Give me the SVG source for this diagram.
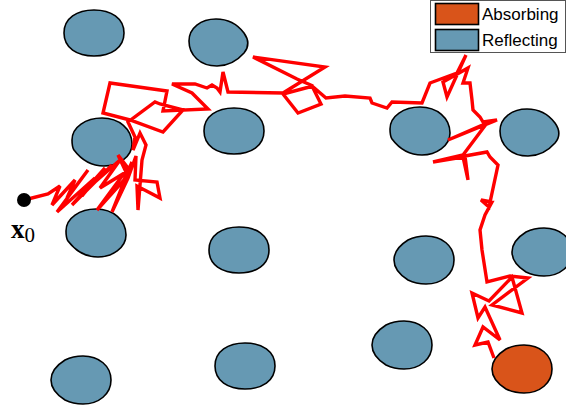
<svg xmlns="http://www.w3.org/2000/svg" xmlns:xlink="http://www.w3.org/1999/xlink" width="566" height="408" viewBox="0 0 566 408">
  <style>
    .obst { stroke: #000; stroke-width: 1.6; }
    .refl { fill: #6699b3; }
    .absb { fill: #d9541a; }
    .walk { fill: none; stroke: #ff0000; stroke-width: 3.4; stroke-linejoin: miter; stroke-miterlimit: 3; }
    .lbl { font-family: "Liberation Sans", Arial, sans-serif; font-size: 17px; fill: #000; }
  </style>
  <defs>
    <!-- obstacle outlines in local coordinates -->
    <path id="shapeA" d="M-30,0 C-30,-15 -17,-23 0,-23 C17,-23 30,-15 30,0 C30,15 17,23 0,23 C-17,23 -30,15 -30,0 Z"/>
    <path id="shapeB" d="M-30,-1 C-30,-14 -18,-23 -3,-23 C10,-23 19,-17 25,-9 C30,-2 30,5 25,11 C18,19 9,24 -2,24 C-19,24 -30,13 -30,-1 Z"/>
    <path id="shapeC" d="M-30,0 C-30,-8 -24,-15 -16,-20 C-10,-23 -4,-24 2,-24 C18,-24 30,-14 30,0 C30,14 18,24 2,24 C-4,24 -10,23 -16,20 C-24,15 -30,8 -30,0 Z"/>
    <path id="shapeD" d="M-30,-2 C-30,-15 -16,-24 0,-24 C17,-24 30,-13 30,2 C30,15 16,24 2,24 C-12,24 -22,16 -28,8 C-30,5 -30,2 -30,-2 Z"/>
  </defs>
  <rect width="566" height="408" fill="#fff"/>

  <!-- reflecting obstacles -->
  <g id="obstacle-1" transform="translate(94,33)"><use xlink:href="#shapeA" class="obst refl"/></g>
  <g id="obstacle-2" transform="translate(219,42)"><use xlink:href="#shapeB" class="obst refl"/></g>
  <g id="obstacle-3" transform="translate(102,142)"><use xlink:href="#shapeD" class="obst refl"/></g>
  <g id="obstacle-4" transform="translate(234,131)"><use xlink:href="#shapeA" class="obst refl"/></g>
  <g id="obstacle-5" transform="translate(420,131)"><use xlink:href="#shapeD" class="obst refl"/></g>
  <g id="obstacle-6" transform="translate(530,132)"><use xlink:href="#shapeB" class="obst refl"/></g>
  <g id="obstacle-7" transform="translate(96,233)"><use xlink:href="#shapeD" class="obst refl"/></g>
  <g id="obstacle-8" transform="translate(239,250)"><use xlink:href="#shapeA" class="obst refl"/></g>
  <g id="obstacle-9" transform="translate(424,260)"><use xlink:href="#shapeC" class="obst refl"/></g>
  <g id="obstacle-10" transform="translate(542,252)"><use xlink:href="#shapeC" class="obst refl"/></g>
  <g id="obstacle-11" transform="translate(402,345)"><use xlink:href="#shapeC" class="obst refl"/></g>
  <g id="obstacle-12" transform="translate(245,366)"><use xlink:href="#shapeA" class="obst refl"/></g>
  <g id="obstacle-13" transform="translate(81,380)"><use xlink:href="#shapeC" class="obst refl"/></g>

  <!-- absorbing target -->
  <g id="target" transform="translate(522,369)"><use xlink:href="#shapeC" class="obst absb"/></g>

  <!-- sample path of the walker -->
  <g id="connectors">
    <polyline class="walk" points="24,200 48,194 60,186 52,205 75,180 67,198 88,170 57,212 95,178 82,196 105,168 72,205 112,165 95,182 120,160 100,188 126,172 118,155 128,168 97,210 124,180 132,162 112,212 128,178 136,156 135,180 157,182 160,198 137,186 138,210 142,160 146,145 140,133 133,150 135,137 128,122 155,102 160,104 183,110 163,132 130,120 103,113 110,83 167,91 163,111 208,109 192,93 172,84 195,84 207,88 212,85 217,88 220,92 223,72 228,92 283,93 325,67 253,57 297,79 313,86 283,94 298,113 321,104 312,86 326,98 345,96 370,98 372,103 387,108 392,102 422,103 430,83 457,73 466,55 447,97 443,82 468,68 463,83 470,83 472,100 473,110 480,117 483,122 497,120 448,140 487,123 463,155 433,162 463,157 468,180 465,156 487,152 490,157 498,165 489,207 481,200 492,202 485,215 480,230 482,250 487,282 510,276 528,278 492,305 522,313 512,277 489,301 472,293 478,318 485,307 500,340 483,327 475,345 488,342 494,358"/>
  </g>

  <!-- starting point -->
  <g id="start">
    <circle cx="24" cy="200" r="7" fill="#000"/>
    <text x="11" y="238" font-family="'Liberation Serif', 'DejaVu Serif', serif" font-size="27" font-weight="bold">x<tspan font-weight="normal" font-size="21" dy="4">0</tspan></text>
  </g>

  <!-- legend -->
  <g id="legend">
    <rect x="430.5" y="0.5" width="135" height="52" fill="#fff" stroke="#555" stroke-width="1"/>
    <rect x="435.5" y="3.5" width="43" height="21" class="obst absb" stroke-width="1"/>
    <text x="482" y="20" class="lbl">Absorbing</text>
    <rect x="435.5" y="29.5" width="43" height="21" class="obst refl" stroke-width="1"/>
    <text x="482" y="46" class="lbl">Reflecting</text>
  </g>
</svg>
